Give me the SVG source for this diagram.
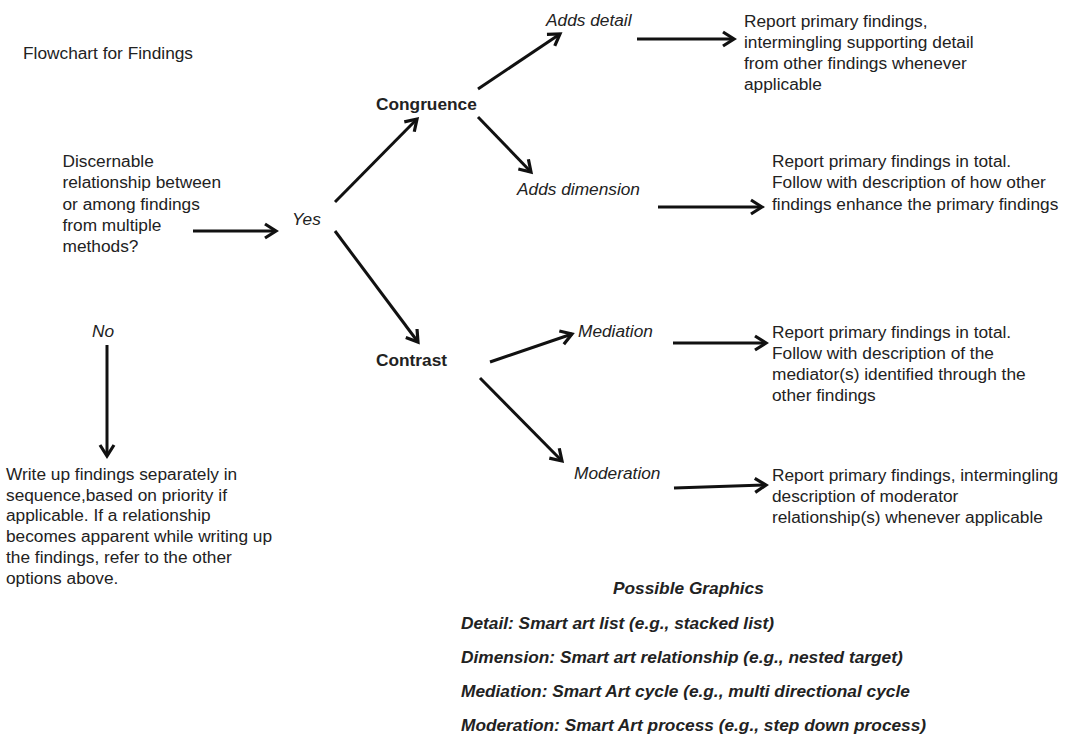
<svg xmlns="http://www.w3.org/2000/svg" width="1068" height="739" viewBox="0 0 1068 739">
  <style>
    text { font-family: "Liberation Sans", Arial, Helvetica, sans-serif; font-size: 17.3px; fill: #222; }
    .it { font-style: italic; }
    .bd { font-weight: bold; }
    .bi { font-weight: bold; font-style: italic; }
    .conn { fill: none; stroke: #111; stroke-width: 3; marker-end: url(#head); }
  </style>
  <defs>
    <marker id="head" markerUnits="userSpaceOnUse" markerWidth="20" markerHeight="20" refX="0" refY="0" viewBox="-14 -10 18 20" orient="auto" overflow="visible">
      <path d="M-11,-7 L0,0 L-11,7" fill="none" stroke="#111" stroke-width="3.2" stroke-linejoin="miter"/>
    </marker>
  </defs>
  <rect width="1068" height="739" fill="#fff"/>

  <g id="title">
    <text x="23" y="59">Flowchart for Findings</text>
  </g>

  <g id="question">
    <text x="62.5" y="167">Discernable</text>
    <text x="62.5" y="188">relationship between</text>
    <text x="62.5" y="210">or among findings</text>
    <text x="62.5" y="231">from multiple</text>
    <text x="62.5" y="252">methods?</text>
  </g>

  <g id="yes"><text class="it" x="292" y="225">Yes</text></g>
  <g id="no"><text class="it" x="92" y="337">No</text></g>

  <g id="congruence"><text class="bd" x="376" y="110">Congruence</text></g>
  <g id="contrast"><text class="bd" x="376" y="366">Contrast</text></g>

  <g id="adds-detail"><text class="it" x="546" y="26">Adds detail</text></g>
  <g id="adds-dimension"><text class="it" x="517" y="195">Adds dimension</text></g>
  <g id="mediation"><text class="it" x="578" y="337">Mediation</text></g>
  <g id="moderation"><text class="it" x="574" y="479">Moderation</text></g>

  <g id="report-detail">
    <text x="744" y="27">Report primary findings,</text>
    <text x="744" y="48">intermingling supporting detail</text>
    <text x="744" y="69">from other findings whenever</text>
    <text x="744" y="90">applicable</text>
  </g>

  <g id="report-dimension">
    <text x="772" y="167">Report primary findings in total.</text>
    <text x="772" y="188">Follow with description of how other</text>
    <text x="772" y="210">findings enhance the primary findings</text>
  </g>

  <g id="report-mediation">
    <text x="772" y="338">Report primary findings in total.</text>
    <text x="772" y="359">Follow with description of the</text>
    <text x="772" y="380">mediator(s) identified through the</text>
    <text x="772" y="401">other findings</text>
  </g>

  <g id="report-moderation">
    <text x="772" y="481">Report primary findings, intermingling</text>
    <text x="772" y="502">description of moderator</text>
    <text x="772" y="523">relationship(s) whenever applicable</text>
  </g>

  <g id="write-separately">
    <text x="6" y="480">Write up findings separately in</text>
    <text x="6" y="500.7">sequence,based on priority if</text>
    <text x="6" y="521.4">applicable. If a relationship</text>
    <text x="6" y="542.1">becomes apparent while writing up</text>
    <text x="6" y="562.8">the findings, refer to the other</text>
    <text x="6" y="583.5">options above.</text>
  </g>

  <g id="graphics">
    <text class="bi" x="613" y="594">Possible Graphics</text>
    <text class="bi" x="461" y="629">Detail: Smart art list (e.g., stacked list)</text>
    <text class="bi" x="461" y="663">Dimension: Smart art relationship (e.g., nested target)</text>
    <text class="bi" x="461" y="697">Mediation: Smart Art cycle (e.g., multi directional cycle</text>
    <text class="bi" x="461" y="731">Moderation: Smart Art process (e.g., step down process)</text>
  </g>

  <g id="connectors">
    <path class="conn" d="M193,231 L276,231"/>
    <path class="conn" d="M335,202 L417,119"/>
    <path class="conn" d="M335,231 L418,342"/>
    <path class="conn" d="M478,89 L560,34"/>
    <path class="conn" d="M478,117 L531,172"/>
    <path class="conn" d="M637,39 L734,39"/>
    <path class="conn" d="M658,207 L762,207"/>
    <path class="conn" d="M107,345 L107,456"/>
    <path class="conn" d="M490,362 L572,334"/>
    <path class="conn" d="M480,378 L562,461"/>
    <path class="conn" d="M673,343 L766,343"/>
    <path class="conn" d="M674,488 L766,485"/>
  </g>
</svg>
